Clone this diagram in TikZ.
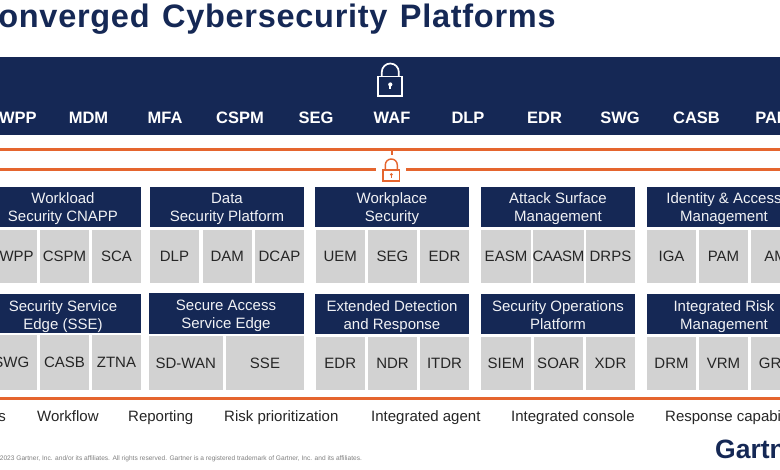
\documentclass[tikz,border=0pt]{standalone}
\usepackage{fontspec}
\setmainfont{Liberation Sans}
\definecolor{navy}{HTML}{152855}
\definecolor{cellgray}{HTML}{D2D2D2}
\definecolor{orangeline}{HTML}{E5652E}
\definecolor{inktext}{HTML}{262626}
\tikzset{
  box/.style={rectangle,inner sep=0pt,outer sep=0pt,align=center,anchor=center},
  headbox/.style={box,fill=navy},
  headtext/.style={inner sep=0pt,outer sep=0pt,align=center,text=white!94!navy,font=\fontsize{15}{18}\selectfont},
  cellbox/.style={box,fill=cellgray,text=inktext,font=\fontsize{15}{18}\selectfont},
  barlabel/.style={inner sep=0pt,text=white,font=\fontsize{16.5}{18}\selectfont\bfseries},
  caplabel/.style={inner sep=0pt,text=inktext,font=\fontsize{15}{18}\selectfont},
  orangerule/.style={draw=orangeline,line width=2.3pt},
}
% name, x0, x1, y0, y1, text, style
\newcommand{\placebox}[7]{%
  \pgfmathsetmacro{\bw}{#3-#2}\pgfmathsetmacro{\bh}{#5-#4}%
  \pgfmathsetmacro{\bx}{(#2+#3)/2}\pgfmathsetmacro{\by}{(#4+#5)/2}%
  \node[#7,minimum width=\bw pt,minimum height=\bh pt] (#1) at (\bx,\by) {#6};}
% name, x0, x1, y0, y1, line 1, line 2, text centre x, text offset y
\newcommand{\placehead}[9]{%
  \placebox{#1}{#2}{#3}{#4}{#5}{}{headbox}%
  \pgfmathsetmacro{\ty}{(#4+#5)/2+#9}%
  \node[headtext] (#1t) at (#8,\ty) {\strut #6\\\strut #7};}
\begin{document}
\begin{tikzpicture}[x=1pt,y=-1pt]
\useasboundingbox (0,0) rectangle (780,470);
\clip (0,0) rectangle (780,470);
\fill[white] (0,0) rectangle (780,470);
% title
\node[inner sep=0pt,anchor=base west,text=navy,font=\fontsize{32.5}{34}\selectfont\bfseries] (title) at (-26,27.5)
  {\addfontfeatures{LetterSpace=2.2}\spaceskip=12.5pt\relax Converged Cybersecurity Platforms};
% top bar
\node[box,fill=navy,minimum width=800pt,minimum height=78pt] (bar) at (390,96) {};
\begin{scope}[shift={(390.3,63.5)}]
  \draw[white,line width=1.7pt] (-12,13) rectangle (12,32.5);
  \draw[white,line width=1.7pt] (-8.5,13) -- (-8.5,8.5) arc[start angle=180,end angle=360,radius=8.5] -- (8.5,13);
  \fill[white] (0,21) circle (2.1);
  \fill[white] (-0.9,21) rectangle (0.9,26);
\end{scope}
\foreach \nm/\cx in {CWPP/12,MDM/88.5,MFA/165,CSPM/240,SEG/316,WAF/392,DLP/468,EDR/544.5,SWG/620,CASB/696.5,PAM/773}{
  \node[barlabel] (bar\nm) at (\cx,118) {\nm};
}
% orange rails
\coordinate (railAw) at (0,149.4); \coordinate (railAe) at (780,149.4);
\coordinate (railBw) at (0,169.4); \coordinate (railBe) at (780,169.4);
\coordinate (lockL) at (376,169.4); \coordinate (lockR) at (406,169.4);
\coordinate (stubT) at (391.7,149.4); \coordinate (stubB) at (391.7,155.5);
\draw[orangerule] (railAw) -- (railAe);
\draw[orangerule] (railBw) -- (lockL);
\draw[orangerule] (lockR) -- (railBe);
\draw[orangerule] (stubT) -- (stubB);
\begin{scope}[shift={(391.3,159)}]
  \draw[orangeline,line width=1.4pt] (-8.2,11) rectangle (8.2,22);
  \draw[orangeline,line width=1.4pt] (-6,11) -- (-6,6) arc[start angle=180,end angle=360,radius=6] -- (6,11);
  \fill[orangeline] (0,15.5) circle (1.5);
  \fill[orangeline] (-0.7,15.5) rectangle (0.7,19.5);
\end{scope}
% row 1
\placehead{h11}{-15}{141}{187}{227}{Workload}{Security CNAPP}{63}{2.2}
\placebox{c11a}{-14}{36.5}{230}{283}{CWPP}{cellbox}
\placebox{c11b}{40}{89}{230}{283}{CSPM}{cellbox}
\placebox{c11c}{92}{141}{230}{283}{SCA}{cellbox}
\placehead{h12}{150}{304}{187}{227}{Data}{Security Platform}{227}{2.2}
\placebox{c12a}{150}{199}{230}{283}{DLP}{cellbox}
\placebox{c12b}{203}{251.5}{230}{283}{DAM}{cellbox}
\placebox{c12c}{255}{304}{230}{283}{DCAP}{cellbox}
\placehead{h13}{315}{469}{187}{227}{Workplace}{Security}{392}{2.2}
\placebox{c13a}{316}{364.5}{230}{283}{UEM}{cellbox}
\placebox{c13b}{368}{417}{230}{283}{SEG}{cellbox}
\placebox{c13c}{420}{469}{230}{283}{EDR}{cellbox}
\placehead{h14}{481}{635}{187}{227}{Attack Surface}{Management}{558}{2.2}
\placebox{c14a}{481}{531}{230}{283}{EASM}{cellbox}
\placebox{c14b}{534}{583}{230}{283}{\addfontfeatures{LetterSpace=-3}CAASM}{cellbox}
\placebox{c14c}{586}{635}{230}{283}{DRPS}{cellbox}
\placehead{h15}{647}{810}{187}{227}{Identity \& Access}{Management}{724}{2.2}
\placebox{c15a}{647}{696}{230}{283}{IGA}{cellbox}
\placebox{c15b}{699}{748}{230}{283}{PAM}{cellbox}
\placebox{c15c}{751}{800}{230}{283}{AM}{cellbox}
% row 2
\placehead{h21}{-15}{141}{294}{333}{Security Service}{Edge (SSE)}{63}{3}
\placebox{c21a}{-14}{36.5}{335}{390}{SWG}{cellbox}
\placebox{c21b}{40}{89}{335}{390}{CASB}{cellbox}
\placebox{c21c}{92}{141}{335}{390}{ZTNA}{cellbox}
\placehead{h22}{148.5}{304}{293}{334}{Secure Access}{Service Edge}{226}{2.7}
\placebox{c22a}{148.5}{223}{336}{390}{SD-WAN}{cellbox}
\placebox{c22b}{226}{304}{336}{390}{SSE}{cellbox}
\placehead{h23}{315}{469}{294}{334}{Extended Detection}{and Response}{392}{3}
\placebox{c23a}{316}{364.5}{337}{390}{EDR}{cellbox}
\placebox{c23b}{368}{417}{337}{390}{NDR}{cellbox}
\placebox{c23c}{420}{469}{337}{390}{ITDR}{cellbox}
\placehead{h24}{481}{635}{294}{334}{Security Operations}{Platform}{558}{3}
\placebox{c24a}{481}{531}{337}{390}{SIEM}{cellbox}
\placebox{c24b}{534}{583}{337}{390}{SOAR}{cellbox}
\placebox{c24c}{586}{635}{337}{390}{XDR}{cellbox}
\placehead{h25}{647}{810}{294}{334}{Integrated Risk}{Management}{724}{3}
\placebox{c25a}{647}{696}{337}{390}{DRM}{cellbox}
\placebox{c25b}{699}{748}{337}{390}{VRM}{cellbox}
\placebox{c25c}{751}{800}{337}{390}{GRC}{cellbox}
% bottom rule
\coordinate (railCw) at (0,398.3); \coordinate (railCe) at (780,398.3);
\draw[orangeline,line width=3pt] (railCw) -- (railCe);
% capabilities
\node[caplabel,anchor=base east] (capa) at (6,422) {s};
\node[caplabel,anchor=base west] (capb) at (37,422) {Workflow};
\node[caplabel,anchor=base west] (capc) at (128,422) {Reporting};
\node[caplabel,anchor=base west] (capd) at (224,422) {Risk prioritization};
\node[caplabel,anchor=base west] (cape) at (371,422) {Integrated agent};
\node[caplabel,anchor=base west] (capf) at (511,422) {Integrated console};
\node[caplabel,anchor=base west] (capg) at (665,422) {Response capabilities};
% footer
\node[inner sep=0pt,anchor=base west,text=black!50,font=\fontsize{6.6}{8}\selectfont] (legal) at (-7,460.3)
  {© 2023 Gartner, Inc. and/or its affiliates. All rights reserved. Gartner is a registered trademark of Gartner, Inc. and its affiliates.};
\node[inner sep=0pt,anchor=base west,text=navy,font=\fontsize{26.5}{30}\selectfont\bfseries] (logo) at (715,459) {Gartner};
\end{tikzpicture}
\end{document}
